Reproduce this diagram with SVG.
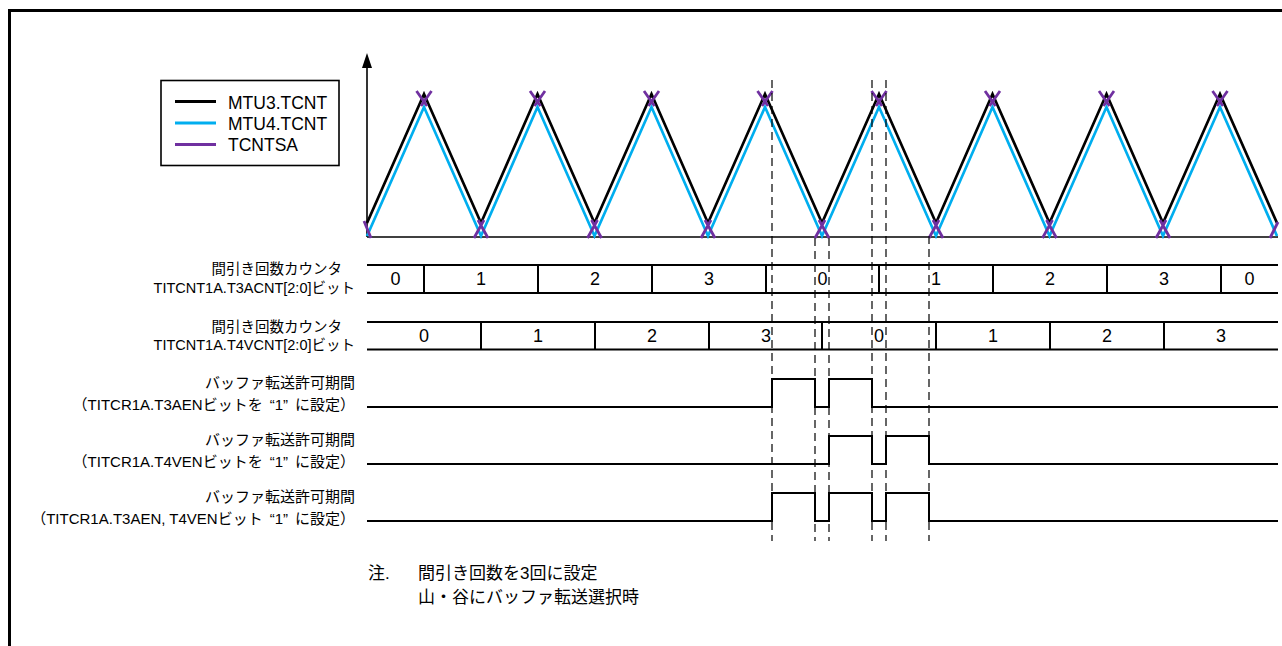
<svg xmlns="http://www.w3.org/2000/svg" width="1282" height="646" viewBox="0 0 1282 646">
<style>
.t{font-family:"Liberation Sans","Noto Sans CJK JP",sans-serif;fill:#000}
.lg{font-size:17.5px}
.lb{font-size:14.5px;text-anchor:end}
.ls{font-size:15px;text-anchor:end}
.dg{font-size:18px;text-anchor:middle}
.nt{font-size:17px}
.ln{fill:none;stroke:#000;stroke-width:1.6}
.sig{fill:none;stroke:#000;stroke-width:2}
.blk{fill:none;stroke:#000;stroke-width:2.7}
.blu{fill:none;stroke:#00AEEF;stroke-width:2.7}
.pur{fill:none;stroke:#7030A0;stroke-width:2.8}
.dsh{fill:none;stroke:#000;stroke-width:1.2;stroke-dasharray:8 5}
</style>
<rect width="1282" height="646" fill="#fff"/>
<path d="M9.5 646 V10.5 H1282" fill="none" stroke="#000" stroke-width="3"/>

<g id="axes">
<line x1="367" y1="237" x2="367" y2="66" class="ln"/>
<polygon points="367,53 362,68 372,68" fill="#000"/>
<line x1="367" y1="237" x2="1278" y2="237" class="ln"/>
</g>

<g id="legend">
<rect x="161" y="80.5" width="178" height="85" fill="#fff" stroke="#000" stroke-width="1.6"/>
<line x1="175" y1="101.5" x2="216" y2="101.5" stroke="#000" stroke-width="3"/>
<line x1="175" y1="123" x2="216" y2="123" stroke="#00AEEF" stroke-width="3"/>
<line x1="175" y1="144.5" x2="216" y2="144.5" stroke="#7030A0" stroke-width="3"/>
<text x="228" y="108.5" class="t lg">MTU3.TCNT</text>
<text x="228" y="129.5" class="t lg">MTU4.TCNT</text>
<text x="228" y="150.5" class="t lg">TCNTSA</text>
</g>

<g id="waves">
<polyline class="blu" points="367,236 424,107 481,236 537.5,107 594.5,236 651.5,107 708,236 765,107 822,236 879,107 936,236 992.5,107 1049.5,236 1106.5,107 1163,236 1220,107 1277,236"/>
<polyline class="blk" points="367,223 424,94 481,223 537.5,94 594.5,223 651.5,94 708,223 765,94 822,223 879,94 936,223 992.5,94 1049.5,223 1106.5,94 1163,223 1220,94 1277,223"/>
<g class="pur">
<path d="M364,221 L371,238"/>
<path d="M416.5,91 L427,106 M431.5,91 L421,106"/>
<path d="M474,238 L484,220 M488,238 L478,220"/>
<path d="M530,91 L540.5,106 M545,91 L534.5,106"/>
<path d="M587.5,238 L597.5,220 M601.5,238 L591.5,220"/>
<path d="M644,91 L654.5,106 M659,91 L648.5,106"/>
<path d="M701,238 L711,220 M715,238 L705,220"/>
<path d="M757.5,91 L768,106 M772.5,91 L762,106"/>
<path d="M815,238 L825,220 M829,238 L819,220"/>
<path d="M871.5,91 L882,106 M886.5,91 L876,106"/>
<path d="M929,238 L939,220 M943,238 L933,220"/>
<path d="M985,91 L995.5,106 M1000,91 L989.5,106"/>
<path d="M1042.5,238 L1052.5,220 M1056.5,238 L1046.5,220"/>
<path d="M1099,91 L1109.5,106 M1114,91 L1103.5,106"/>
<path d="M1156,238 L1166,220 M1170,238 L1160,220"/>
<path d="M1212.5,91 L1223,106 M1227.5,91 L1217,106"/>
<path d="M1270,238 L1278,222"/>
</g>
</g>

<g id="connectors">
<line x1="772" y1="80" x2="772" y2="541" class="dsh"/>
<line x1="872" y1="80" x2="872" y2="541" class="dsh"/>
<line x1="886" y1="80" x2="886" y2="541" class="dsh"/>
<line x1="815" y1="238" x2="815" y2="541" class="dsh"/>
<line x1="829" y1="238" x2="829" y2="541" class="dsh"/>
<line x1="929" y1="236" x2="929" y2="541" class="dsh"/>
</g>

<g id="bus-t3acnt">
<text x="342" y="274" class="t lb">間引き回数カウンタ</text>
<text x="355" y="293" class="t lb">TITCNT1A.T3ACNT[2:0]ビット</text>
<path class="sig" d="M367 265 H1278 M367 293 H1278 M424 265 V293 M538 265 V293 M652 265 V293 M766 265 V293 M879 265 V293 M993 265 V293 M1107 265 V293 M1221 265 V293"/>
<text x="395.5" y="285" class="t dg">0</text>
<text x="481" y="285" class="t dg">1</text>
<text x="595" y="285" class="t dg">2</text>
<text x="709" y="285" class="t dg">3</text>
<text x="822.5" y="285" class="t dg">0</text>
<text x="936" y="285" class="t dg">1</text>
<text x="1050" y="285" class="t dg">2</text>
<text x="1164" y="285" class="t dg">3</text>
<text x="1249.5" y="285" class="t dg">0</text>
</g>

<g id="bus-t4vcnt">
<text x="342" y="332" class="t lb">間引き回数カウンタ</text>
<text x="355" y="350" class="t lb">TITCNT1A.T4VCNT[2:0]ビット</text>
<path class="sig" d="M367 322 H1278 M367 349.5 H1278 M481 322 V349.5 M595 322 V349.5 M709 322 V349.5 M822 322 V349.5 M936 322 V349.5 M1050 322 V349.5 M1164 322 V349.5"/>
<text x="424" y="342" class="t dg">0</text>
<text x="538" y="342" class="t dg">1</text>
<text x="652" y="342" class="t dg">2</text>
<text x="766" y="342" class="t dg">3</text>
<text x="879" y="342" class="t dg">0</text>
<text x="993" y="342" class="t dg">1</text>
<text x="1107" y="342" class="t dg">2</text>
<text x="1221" y="342" class="t dg">3</text>
</g>

<g id="sig-t3aen">
<text x="355" y="388" class="t ls">バッファ転送許可期間</text>
<text x="355" y="410" class="t ls">（TITCR1A.T3AENビットを<tspan dx="7">“1”</tspan><tspan dx="7">に設定）</tspan></text>
<path class="sig" d="M367 407 H772 V379 H815 V407 H829 V379 H872 V407 H1278"/>
</g>

<g id="sig-t4ven">
<text x="355" y="445" class="t ls">バッファ転送許可期間</text>
<text x="355" y="467" class="t ls">（TITCR1A.T4VENビットを<tspan dx="7">“1”</tspan><tspan dx="7">に設定）</tspan></text>
<path class="sig" d="M367 464 H829 V436 H872 V464 H886 V436 H929 V464 H1278"/>
</g>

<g id="sig-both">
<text x="355" y="502" class="t ls">バッファ転送許可期間</text>
<text x="355" y="524" class="t ls">（TITCR1A.T3AEN, T4VENビット<tspan dx="7">“1”</tspan><tspan dx="7">に設定）</tspan></text>
<path class="sig" d="M367 521 H772 V493 H815 V521 H829 V493 H872 V521 H886 V493 H929 V521 H1278"/>
</g>

<g id="note">
<text x="368" y="579" class="t nt">注.</text>
<text x="418" y="579" class="t nt">間引き回数を3回に設定</text>
<text x="418" y="603" class="t nt">山・谷にバッファ転送選択時</text>
</g>
</svg>
